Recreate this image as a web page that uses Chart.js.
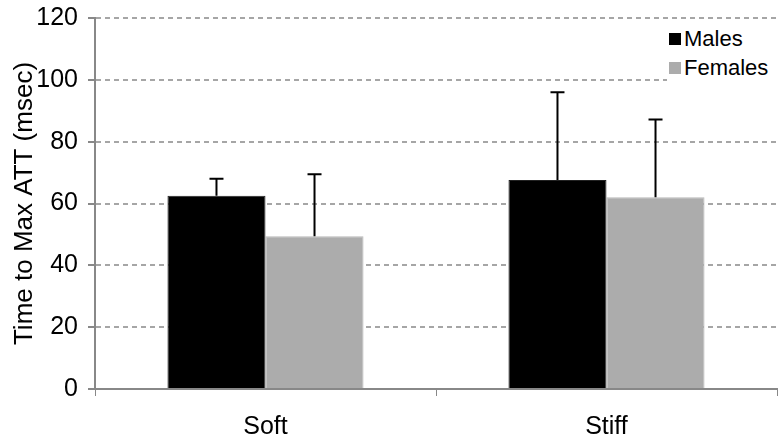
<!DOCTYPE html>
<html>
<head>
<meta charset="utf-8">
<script src="https://cdn.jsdelivr.net/npm/chart.js@4.4.0/dist/chart.umd.min.js"></script>
<style>
  body { margin: 0; background: #fff; }
  #wrap { position: relative; width: 778px; height: 441px; }
  #legend {
    position: absolute; left: 667px; top: 20px; width: 111px;
    background: #fff; font-family: 'Liberation Sans', Arial, sans-serif;
    font-size: 22px; color: #000; padding: 4px 0 6px 2px;
  }
  #legend div { height: 29px; line-height: 29px; white-space: nowrap; }
  #legend span { display: inline-block; width: 12px; height: 12px; margin-right: 3px; vertical-align: 1px; }
</style>
</head>
<body>
<div id="wrap">
  <canvas id="myChart" width="778" height="441"></canvas>
  <div id="legend"></div>
</div>
<script>
'use strict';

let categories = ['Soft', 'Stiff'];
let seriesNames = ['Males', 'Females'];
let males = [62.5, 67.6];
let females = [49.4, 62];
let malesErr = [5.5, 28.4];
let femalesErr = [20.1, 25.2];
let yTicks = [0, 20, 40, 60, 80, 100, 120];

let colors = ['#000000', '#acacac'];
let font = "'Liberation Sans', Arial, sans-serif";

// error bars, only the upper half is drawn
let errorBars = {
  id: 'errorBars',
  afterDatasetsDraw(chart) {
    let ctx = chart.ctx;
    let yScale = chart.scales.y;
    chart.data.datasets.forEach((ds, d) => {
      let meta = chart.getDatasetMeta(d);
      meta.data.forEach((bar, i) => {
        let top = yScale.getPixelForValue(ds.data[i] + ds.errUp[i]);
        ctx.save();
        ctx.strokeStyle = '#000';
        ctx.lineWidth = 2;
        ctx.beginPath();
        ctx.moveTo(bar.x, bar.y);
        ctx.lineTo(bar.x, top);
        ctx.moveTo(bar.x - 7, top);
        ctx.lineTo(bar.x + 7, top);
        ctx.stroke();
        ctx.restore();
      });
    });
  }
};

let ctx = document.getElementById('myChart').getContext('2d');

let myChart = new Chart(ctx, {
  type: 'bar',
  data: {
    labels: categories,
    datasets: [
      { label: seriesNames[0], data: males, errUp: malesErr, backgroundColor: colors[0],
        borderColor: '#222', borderWidth: 1 },
      { label: seriesNames[1], data: females, errUp: femalesErr, backgroundColor: colors[1],
        borderColor: '#b8b8b8', borderWidth: 1 }
    ]
  },
  options: {
    responsive: false,
    animation: false,
    layout: { padding: { top: 0, right: 1, left: 0, bottom: 0 } },
    datasets: { bar: { barPercentage: 1, categoryPercentage: 0.575 } },
    plugins: { legend: { display: false }, tooltip: { enabled: false } },
    scales: {
      x: {
        afterFit(axis) { axis.height = 52; },
        grid: { drawOnChartArea: false, drawTicks: true, tickLength: 7, color: '#888', tickColor: '#888' },
        border: { color: '#888', width: 2 },
        ticks: { color: '#000', font: { family: font, size: 25 }, padding: 16 }
      },
      y: {
        min: 0,
        max: 120,
        afterFit(axis) { axis.width = 95; axis.paddingTop = 18; axis.paddingBottom = 0; },
        afterBuildTicks(axis) { axis.ticks = yTicks.map(v => ({ value: v })); },
        grid: { color: '#a6a6a6', lineWidth: 2, tickLength: 7, tickColor: '#888', tickBorderDash: [] },
        border: { color: '#888', width: 2, dash: [5, 4] },
        ticks: { color: '#000', font: { family: font, size: 25 }, padding: 10 },
        title: { display: true, text: 'Time to Max ATT (msec)', color: '#000',
                 font: { family: font, size: 26 }, padding: { top: 9, bottom: 0 } }
      }
    }
  },
  plugins: [errorBars]
});

let legend = document.getElementById('legend');
myChart.data.datasets.forEach(ds => {
  let row = document.createElement('div');
  row.innerHTML = `<span style="background:${ds.backgroundColor}"></span>${ds.label}`;
  legend.appendChild(row);
});
</script>
</body>
</html>
